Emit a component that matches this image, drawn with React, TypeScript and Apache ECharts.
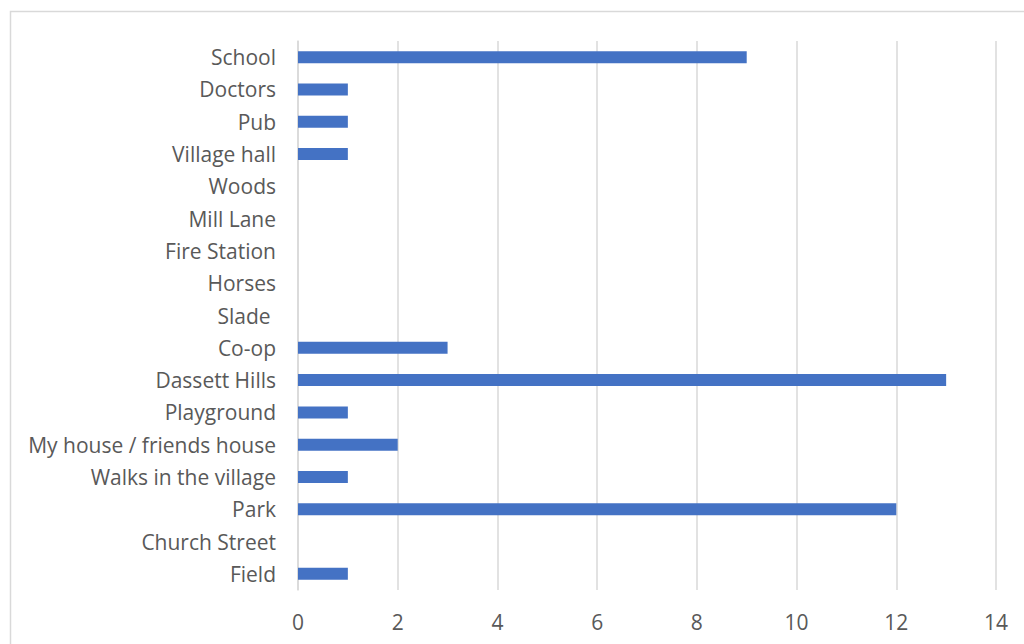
import React, { useEffect, useRef } from "react";
import * as echarts from "echarts";

const categories = [
  "Field",
  "Church Street",
  "Park",
  "Walks in the village",
  "My house / friends house",
  "Playground",
  "Dassett Hills",
  "Co-op",
  "Slade ",
  "Horses",
  "Fire Station",
  "Mill Lane",
  "Woods",
  "Village hall",
  "Pub",
  "Doctors",
  "School",
];
const values = [1, 0, 12, 1, 2, 1, 13, 3, 0, 0, 0, 0, 0, 1, 1, 1, 9];
const xMin = 0;
const xMax = 14;
const xInterval = 2;

export default function App() {
  const ref = useRef<HTMLDivElement>(null);
  useEffect(() => {
    if (!ref.current) return;
    const chart = echarts.init(ref.current, undefined, { renderer: "svg" });
    const font = "'Open Sans', 'Noto Sans', sans-serif";
    chart.setOption({
      animation: false,
      backgroundColor: "#ffffff",
      graphic: [
        {
          type: "rect",
          shape: { x: 10.5, y: 11.5, width: 1100, height: 700 },
          style: { fill: "none", stroke: "#d9d9d9", lineWidth: 1.5 },
          silent: true,
        },
      ],
      grid: { left: 298, right: 28, top: 41, bottom: 54 },
      xAxis: {
        type: "value",
        min: xMin,
        max: xMax,
        interval: xInterval,
        axisLine: { show: false },
        axisTick: { show: false },
        splitLine: { show: true, lineStyle: { color: "#d9d9d9", width: 1.5 } },
        axisLabel: { color: "#595959", fontSize: 21, fontFamily: font, margin: 21 },
      },
      yAxis: {
        type: "category",
        data: categories,
        axisLine: { show: true, lineStyle: { color: "#d9d9d9", width: 1.5 } },
        axisTick: { show: false },
        axisLabel: { color: "#595959", fontSize: 21, fontFamily: font, margin: 22 },
      },
      series: [
        {
          type: "bar",
          data: values,
          barWidth: 12,
          itemStyle: { color: "#4472C4" },
        },
      ],
    });
    return () => chart.dispose();
  }, []);
  return (
    <div
      ref={ref}
      style={{ position: "absolute", left: 0, top: 0, width: 1024, height: 644 }}
    />
  );
}
